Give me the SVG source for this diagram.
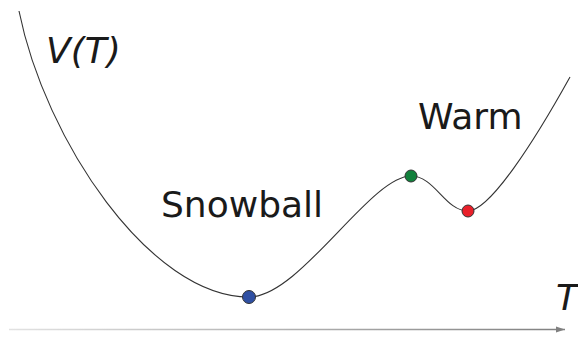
<svg xmlns="http://www.w3.org/2000/svg" width="578" height="340" viewBox="0 0 578 340">
<style>
.lbl{font-family:"DejaVu Sans",sans-serif;font-size:36px;fill:#1a1a1a}
.it{font-style:italic}
.curve{fill:none;stroke:#333;stroke-width:1.1}
.dot{stroke:#333;stroke-width:1}
</style>
<defs>
<linearGradient id="axg" gradientUnits="userSpaceOnUse" x1="9" y1="0" x2="565" y2="0">
<stop offset="0" stop-color="#e2e2e2"/>
<stop offset="1" stop-color="#808080"/>
</linearGradient>
<marker id="ah" markerWidth="10" markerHeight="8" refX="9" refY="4" orient="auto" markerUnits="userSpaceOnUse">
<path d="M0,1 L9,4 L0,7 Z" fill="#808080"/>
</marker>
</defs>
<rect width="578" height="340" fill="#fff"/>
<g id="connectors">
<path id="axis" d="M9,329.5 H565" stroke="url(#axg)" stroke-width="1.3" fill="none" marker-end="url(#ah)"/>
<path id="potential" class="curve" d="M19,11 C45,140 150,297 249,297 C300,297 370,176 411,176 C435,176 445,211 468,211 C490,211 535,140 570,77"/>
</g>
<g id="snowball-state"><circle class="dot" cx="249" cy="297" r="6.5" fill="#2f50a3"/></g>
<g id="saddle-state"><circle class="dot" cx="411" cy="176" r="6" fill="#12803c"/></g>
<g id="warm-state"><circle class="dot" cx="468" cy="211" r="6" fill="#e8202a"/></g>
<g id="label-V"><text class="lbl it" x="46" y="63">V(T)</text></g>
<g id="label-snowball"><text class="lbl" x="161" y="217">Snowball</text></g>
<g id="label-warm"><text class="lbl" x="418" y="129">Warm</text></g>
<g id="label-T"><text class="lbl it" x="556" y="310">T</text></g>
</svg>
